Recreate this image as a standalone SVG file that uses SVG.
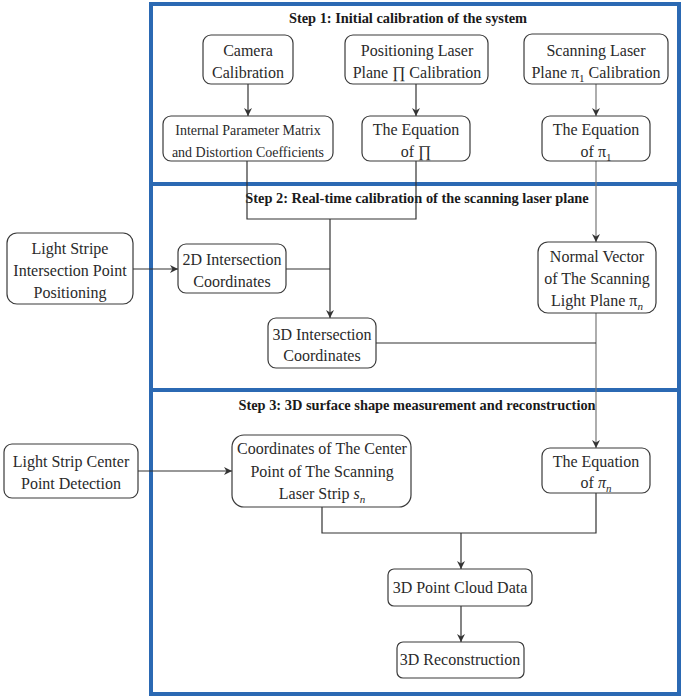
<svg xmlns="http://www.w3.org/2000/svg" width="685" height="700" viewBox="0 0 685 700">
<defs>
<style>
.panel{fill:none;stroke:#2b69b3;stroke-width:4}
.box{fill:#fff;stroke:#3a3a3a;stroke-width:1.2}
.t{font-family:"Liberation Serif","Times New Roman",serif;font-size:16px;fill:#2a2a2a;text-anchor:middle}
.s{font-size:14px}
.h{font-family:"Liberation Serif","Times New Roman",serif;font-size:14.4px;font-weight:bold;fill:#1a1a1a;text-anchor:middle}
.ln{fill:none;stroke:#333;stroke-width:1.2}
.lg{fill:none;stroke:#777;stroke-width:1.2}
</style>
<marker id="ah" viewBox="0 0 10 10" refX="10" refY="5" markerWidth="8" markerHeight="8" markerUnits="userSpaceOnUse" orient="auto">
<path d="M0,0 L10,5 L0,10 L3,5 Z" fill="#333"/>
</marker>
</defs>
<rect width="685" height="700" fill="#fff"/>
<g id="panels">
<rect class="panel" x="151" y="4" width="528" height="180"/>
<rect class="panel" x="151" y="184" width="528" height="206"/>
<rect class="panel" x="151" y="390" width="528" height="304"/>
<text class="h" x="408" y="23">Step 1: Initial calibration of the system</text>
<text class="h" x="417" y="203">Step 2: Real-time calibration of the scanning laser plane</text>
<text class="h" x="417" y="410">Step 3: 3D surface shape measurement and reconstruction</text>
</g>
<g id="connectors">
<line class="ln" x1="248" y1="84" x2="248" y2="116" marker-end="url(#ah)"/>
<line class="ln" x1="416" y1="84" x2="416" y2="116" marker-end="url(#ah)"/>
<line class="lg" x1="596" y1="84" x2="596" y2="116" marker-end="url(#ah)"/>
<polyline class="ln" points="247,161 247,219 416,219 416,161"/>
<line class="ln" x1="330" y1="219" x2="330" y2="318" marker-end="url(#ah)"/>
<line class="ln" x1="286" y1="269" x2="330" y2="269"/>
<line class="ln" x1="133" y1="269" x2="178" y2="269" marker-end="url(#ah)"/>
<line class="lg" x1="596" y1="161" x2="596" y2="242" marker-end="url(#ah)"/>
<line class="lg" x1="596" y1="313" x2="596" y2="448" marker-end="url(#ah)"/>
<line class="ln" x1="376" y1="343" x2="596" y2="343"/>
<line class="ln" x1="138" y1="471" x2="232" y2="471" marker-end="url(#ah)"/>
<polyline class="ln" points="322,507 322,533 596,533 596,493"/>
<line class="ln" x1="461" y1="533" x2="461" y2="569" marker-end="url(#ah)"/>
<line class="ln" x1="461" y1="606" x2="461" y2="642" marker-end="url(#ah)"/>
</g>
<g id="camera">
<rect class="box" x="203" y="35" width="90" height="49" rx="8"/>
<text class="t" x="248" y="56">Camera</text>
<text class="t" x="248" y="78">Calibration</text>
</g>
<g id="positioning">
<rect class="box" x="345" y="35" width="143" height="49" rx="8"/>
<text class="t" x="417" y="56">Positioning Laser</text>
<text class="t" x="417" y="78">Plane ∏ Calibration</text>
</g>
<g id="scanning">
<rect class="box" x="524" y="34" width="144" height="50" rx="8"/>
<text class="t" x="596" y="56">Scanning Laser</text>
<text class="t" x="596" y="78">Plane π<tspan font-size="11" dy="4">1</tspan><tspan dy="-4"> Calibration</tspan></text>
</g>
<g id="internal">
<rect class="box" x="163" y="116" width="170" height="45" rx="8"/>
<text class="t s" x="248" y="135">Internal Parameter Matrix</text>
<text class="t s" x="248" y="157">and Distortion Coefficients</text>
</g>
<g id="eqPi">
<rect class="box" x="362" y="116" width="108" height="45" rx="8"/>
<text class="t" x="416" y="135">The Equation</text>
<text class="t" x="416" y="157">of ∏</text>
</g>
<g id="eqPi1">
<rect class="box" x="542" y="116" width="108" height="45" rx="8"/>
<text class="t" x="596" y="135">The Equation</text>
<text class="t" x="596" y="157">of π<tspan font-size="11" dy="4">1</tspan></text>
</g>
<g id="lightStripe">
<rect class="box" x="7" y="233" width="126" height="71" rx="10"/>
<text class="t" x="70" y="254">Light Stripe</text>
<text class="t" x="70" y="276">Intersection Point</text>
<text class="t" x="70" y="298">Positioning</text>
</g>
<g id="coord2d">
<rect class="box" x="178" y="244" width="108" height="49" rx="8"/>
<text class="t" x="232" y="265">2D Intersection</text>
<text class="t" x="232" y="287">Coordinates</text>
</g>
<g id="coord3d">
<rect class="box" x="268" y="318" width="108" height="50" rx="8"/>
<text class="t" x="322" y="340">3D Intersection</text>
<text class="t" x="322" y="361">Coordinates</text>
</g>
<g id="normal">
<rect class="box" x="538" y="242" width="118" height="71" rx="10"/>
<text class="t" x="597" y="262">Normal Vector</text>
<text class="t" x="597" y="284">of The Scanning</text>
<text class="t" x="597" y="306">Light Plane π<tspan font-size="11" font-style="italic" dy="4">n</tspan></text>
</g>
<g id="stripCenter">
<rect class="box" x="4" y="444" width="134" height="54" rx="8"/>
<text class="t" x="71" y="467">Light Strip Center</text>
<text class="t" x="71" y="489">Point Detection</text>
</g>
<g id="centerCoords">
<rect class="box" x="232" y="435" width="179" height="72" rx="12"/>
<text class="t" x="322" y="454">Coordinates of The Center</text>
<text class="t" x="322" y="477">Point of The Scanning</text>
<text class="t" x="322" y="499">Laser Strip <tspan font-style="italic">s</tspan><tspan font-size="11" font-style="italic" dy="4">n</tspan></text>
</g>
<g id="eqPin">
<rect class="box" x="542" y="448" width="108" height="45" rx="8"/>
<text class="t" x="596" y="467">The Equation</text>
<text class="t" x="596" y="488">of <tspan font-style="italic">π</tspan><tspan font-size="11" font-style="italic" dy="4">n</tspan></text>
</g>
<g id="pointCloud">
<rect class="box" x="388" y="569" width="144" height="37" rx="6"/>
<text class="t" x="460" y="593">3D Point Cloud Data</text>
</g>
<g id="recon">
<rect class="box" x="397" y="642" width="127" height="36" rx="6"/>
<text class="t" x="460" y="665">3D Reconstruction</text>
</g>
</svg>
